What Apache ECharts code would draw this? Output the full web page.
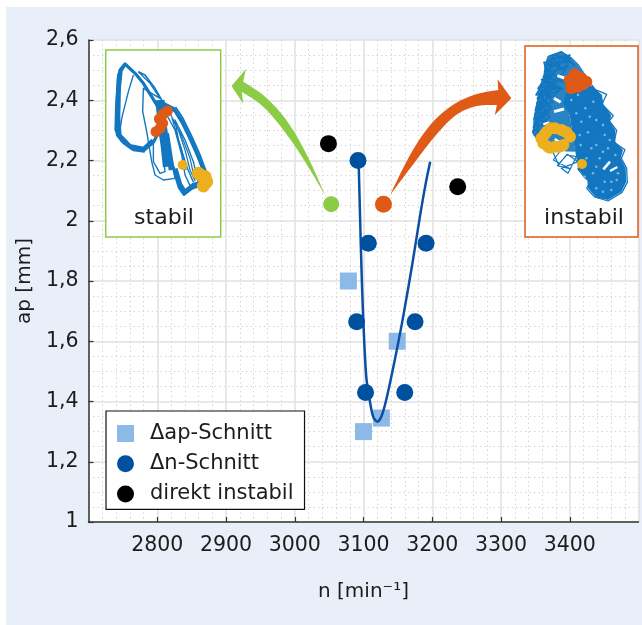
<!DOCTYPE html>
<html><head><meta charset="utf-8">
<style>html,body{margin:0;padding:0;background:#fff}#c{width:642px;height:625px}</style>
<script src="https://cdn.jsdelivr.net/npm/echarts@6/dist/echarts.min.js"></script>
</head><body><div id="c"></div>
<script>
// ---- main chart data [n, ap] ----
const apCut = [[3078,1.80],[3149,1.60],[3126,1.345],[3100,1.30]];
const nCut = [[3092,2.20],[3107,1.925],[3090,1.665],[3103,1.43],[3160,1.43],[3175,1.665],[3191,1.925]];
const direct = [[3049,2.256],[3237,2.113]];
const stablePoint = [[3053,2.055]];
const unstablePoint = [[3129,2.055]];
const boundary = [[3093,2.19],[3095,2.013],[3097,1.847],[3099.5,1.68],[3104,1.482],[3109,1.405],[3114,1.35],[3120,1.333],[3126,1.35],[3133,1.405],[3145.5,1.538],[3157.6,1.68],[3172,1.87],[3182,2.013],[3190.5,2.124],[3197,2.196]];
const xTicks = [2800,2900,3000,3100,3200,3300,3400];
// ---- arrow outlines [n, ap]: outer edge, head, inner edge ----
const greenOuter = [[3044,2.085],[3022,2.202],[2993,2.323],[2959,2.412],[2925,2.462]];
const greenHead = [[2929,2.504],[2908,2.447],[2925,2.388]];
const greenInner = [[2923,2.428],[2954,2.384],[2988,2.29],[3017,2.19],[3044,2.085]];
const orangeOuter = [[3138.5,2.085],[3168,2.224],[3197,2.323],[3231,2.39],[3265,2.423],[3296,2.434]];
const orangeHead = [[3295,2.47],[3315,2.407],[3291,2.351]];
const orangeInner = [[3294,2.384],[3265,2.384],[3235.5,2.357],[3206.5,2.29],[3177,2.202],[3138.5,2.085]];
// ---- inset "stabil" traces ----
const stabilThick = [[45,27],[30,45],[25,70],[22,130],[20,200],[22,240],[40,262],[65,280],[100,287],[130,262],[150,225],[155,180],[140,150],[125,125],[100,85],[75,55],[45,27],[33,48],[28,100],[26,190],[30,240],[60,272],[100,280],[128,255]];
const stabilThick2 = [[150,140],[190,160],[210,190],[235,240],[260,295],[280,345],[290,385],[265,392],[245,400],[222,418],[208,398],[192,345],[172,290],[160,240],[150,180],[165,150],[195,168],[218,205],[245,260],[268,315],[285,360],[278,382],[250,388],[225,408],[212,388],[198,340]];
const stabilThick3 = [[38,36],[24,60],[18,150],[16,225],[34,258],[70,286],[104,290]];
const stabilThick4 = [[196,156],[216,186],[242,238],[268,296],[288,350],[296,386]];
const stabilThin = [[70,60],[55,110],[35,190],[28,240]];
const stabilThin2 = [[85,50],[120,85],[150,130],[100,100],[98,170],[110,230],[125,320],[135,360],[160,375],[195,370],[190,340],[170,300]];
const stabilThin3 = [[85,50],[105,60],[135,100],[155,135]];
const stabilThin4 = [[130,265],[130,320],[150,355],[165,350],[160,300]];
const stabilThin5 = [[170,180],[195,225],[215,300],[225,360],[240,392],[265,385],[250,320],[225,255],[195,195],[205,255],[232,340],[250,382]];
const stabilThin6 = [[180,175],[205,225],[225,285],[240,345],[255,378],[240,310],[212,235],[186,190],[215,285],[228,345]];
const stabilCore = [[150,135],[155,200],[165,270],[172,335]];
const stabilCore2 = [[185,345],[178,300],[168,235]];
const stabilOrange = [[172,168],[158,178],[148,192],[158,205],[150,220],[138,230]];
const stabilYellowBig = [[265,355],[272,360],[285,365],[290,380],[280,393]];
const stabilYellowSmall = [[218,330]];
// ---- inset "instabil" traces ----
const instabilWebFill = [[58,34],[100,20],[130,36],[152,58],[170,85],[120,120],[110,175],[125,210],[135,270],[142,320],[70,318],[36,294],[14,268],[16,222],[26,170],[32,130],[46,92],[50,60]];
const instabilLeft = [[62,34],[100,20],[128,40],[78,30],[55,62],[118,46],[140,60],[95,36],[60,48],[50,80],[112,72],[70,58],[46,96],[104,88],[120,60],[84,76],[42,118],[96,104],[66,84],[30,130],[78,120],[104,132],[48,108],[24,150],[92,140],[58,118],[26,176],[80,150],[100,128],[40,136],[22,196],[74,170],[50,146],[18,222],[72,190],[44,168],[14,262],[66,214],[36,190],[20,240],[70,236],[30,212],[26,280],[60,252],[18,268],[38,292],[46,232],[70,40],[126,30],[88,60],[56,72],[100,50],[72,96],[40,104],[86,116],[52,132],[28,160],[70,134],[36,156],[62,176],[28,204],[64,202],[22,230],[56,226],[34,262],[20,208],[58,160],[84,96],[108,112],[60,100],[48,52],[130,52],[110,30],[66,66],[92,26],[52,90],[76,84],[36,124],[90,128],[34,146],[68,150],[24,186],[68,182],[30,226],[60,238],[16,246],[50,208],[42,248]];
const instabilRightFill = [[112,96],[170,85],[200,130],[222,150],[226,178],[250,212],[244,228],[262,256],[262,290],[285,315],[278,340],[293,370],[295,410],[280,440],[240,465],[205,458],[180,430],[178,405],[150,370],[142,320],[135,270],[125,210],[106,175],[118,130]];
const instabilRightEdge = [[185,112],[202,134],[236,148],[222,178],[256,212],[244,228],[266,256],[258,292],[291,314],[280,340],[296,370],[298,412],[282,442],[240,468],[200,456],[176,430],[186,410],[172,400],[150,372],[170,330],[140,300],[160,250],[130,240],[150,190],[108,176],[140,150],[118,120]];
const instabilOutlier = [[75,322],[92,360],[115,330],[145,335],[120,385],[100,370],[150,350],[118,328],[88,362],[128,372],[76,345],[102,312],[80,318]];
// white gaps between the strokes
const gapA = [[88,92],[112,100]];
const gapB = [[78,160],[98,172]];
const gapC = [[78,200],[108,192]];
const gapD = [[46,238],[64,232]];
const gapE = [[80,282],[102,296]];
const gapF = [[66,300],[112,316]];
const instabilHoles = [[226,373],[246,350]];
const instabilHoles2 = [[246,378],[268,366]];
const instabilSpeck = [[150,150],[172,190],[196,170],[160,230],[205,225],[180,262],[230,270],[158,300],[205,300],[240,310],[175,340],[215,340],[195,385],[262,330],[230,410],[266,405],[205,430],[250,435],[145,205],[190,120],[225,240],[170,395],[270,385],[130,165],[185,215],[245,285],[155,270],[225,320],[190,310],[205,365],[250,410],[225,440]];
const instabilOrange = [[140,88],[125,105],[130,130],[150,125],[175,110],[160,100],[145,108],[132,118],[165,118]];
const instabilYellowRing = [[81,250],[56,260],[46,295],[81,305],[106,300],[126,275],[101,255],[40,280],[68,250],[115,262],[93,305],[66,308],[50,268],[60,305]];
const instabilYellowSmall = [[162,357]];

const FONT = 'DejaVu Sans';
const INK = '#1c1c1c', TRACE = '#1277C0', GREEN = '#8CCB46', ORANGE = '#DE5A16', YELLOW = '#EEAF1E';

// corner-cutting of a read-off edge so the arrow outline is curved
function rounded(pts) {
  let p = pts;
  for (let k = 0; k < 3; k++) {
    const o = [p[0]];
    for (let i = 0; i < p.length - 1; i++) {
      o.push([p[i][0]*.75 + p[i+1][0]*.25, p[i][1]*.75 + p[i+1][1]*.25]);
      o.push([p[i][0]*.25 + p[i+1][0]*.75, p[i][1]*.25 + p[i+1][1]*.75]);
    }
    o.push(p[p.length-1]);
    p = o;
  }
  return p;
}
function polygon(points, color, xi, z, opacity) {
  return {
    type:'custom', xAxisIndex:xi, yAxisIndex:xi, z, silent:true, clip:false,
    data:[points[0]],
    renderItem:(p, api) => ({
      type:'polygon',
      shape:{points:points.map(q => api.coord(q))},
      style:{fill:color, opacity: opacity === undefined ? 1 : opacity}
    })
  };
}
function trace(data, xi, width, color) {
  return {type:'line', data, xAxisIndex:xi, yAxisIndex:xi, z:4, silent:true, showSymbol:false, symbol:'none',
    lineStyle:{color:color||TRACE, width, join:'round'}, animation:false};
}
function dots(data, xi, size, color, z) {
  return {type:'scatter', data, xAxisIndex:xi, yAxisIndex:xi, z:z||5, silent:true, symbol:'circle', symbolSize:size,
    itemStyle:{color, opacity:1}, animation:false};
}
function insetAxis(min, max, inverse) {
  return {type:'value', min, max, inverse:!!inverse, show:false, splitLine:{show:false}, axisLine:{show:false}, axisTick:{show:false}, axisLabel:{show:false}};
}

const option = {
  animation:false,
  textStyle:{fontFamily:FONT},
  graphic:[{type:'rect', z:-10, silent:true, shape:{x:6,y:7,width:636,height:618}, style:{fill:'#E8EFF9'}}],
  title:[
    {text:'stabil', left:164, top:207, padding:0, textAlign:'center', z:8, textStyle:{fontFamily:FONT,fontSize:22,fontWeight:'normal',color:INK}},
    {text:'instabil', left:584, top:207, padding:0, textAlign:'center', z:8, textStyle:{fontFamily:FONT,fontSize:22,fontWeight:'normal',color:INK}}
  ],
  legend:{
    left:106, top:411, orient:'vertical', selectedMode:false,
    data:['Δap-Schnitt','Δn-Schnitt','direkt instabil'],
    itemWidth:17, itemHeight:17, itemGap:9.2, padding:[12,11,5,11],
    backgroundColor:'#fff', borderColor:'#111', borderWidth:1.2, z:10,
    textStyle:{fontFamily:FONT, fontSize:21, lineHeight:17, color:INK, padding:[0,0,0,11]}
  },
  grid:[
    {left:88.5, top:40, width:550, height:482, show:true, backgroundColor:'#fff', borderWidth:0, containLabel:false},
    {left:105.7, top:50, width:115, height:187, show:true, backgroundColor:'#fff', borderColor:GREEN, borderWidth:1.5, z:3},
    {left:525, top:46, width:113, height:191, show:true, backgroundColor:'#fff', borderColor:ORANGE, borderWidth:1.5, z:3}
  ],
  xAxis:[
    {type:'value', gridIndex:0, min:2700, max:3500, interval:100,
     name:'n [min⁻¹]', nameLocation:'middle', nameGap:60,
     nameTextStyle:{fontFamily:FONT,fontSize:20,color:INK},
     axisLine:{show:true,onZero:false,lineStyle:{color:'#333',width:1.5}},
     axisTick:{show:true,inside:true,length:5,lineStyle:{color:'#333',width:1.2}},
     axisLabel:{margin:13,fontFamily:FONT,fontSize:20.5,color:INK,showMinLabel:false,showMaxLabel:false,
       formatter:v => xTicks.includes(v) ? String(v) : ''},
     minorTick:{show:false,splitNumber:5},
     splitLine:{show:true,lineStyle:{color:'#e0e0e0',width:1.5}},
     minorSplitLine:{show:true,lineStyle:{color:'#d6d6d6',width:1,type:[1.5,3]}}},
    Object.assign(insetAxis(-13,332),{gridIndex:1}),
    Object.assign(insetAxis(-9,330),{gridIndex:2})
  ],
  yAxis:[
    {type:'value', gridIndex:0, min:1, max:2.6, interval:0.2,
     name:'ap [mm]', nameLocation:'middle', nameGap:53, nameRotate:90,
     nameTextStyle:{fontFamily:FONT,fontSize:20,color:INK},
     axisLine:{show:true,onZero:false,lineStyle:{color:'#333',width:1.5}},
     axisTick:{show:true,inside:true,length:5,lineStyle:{color:'#333',width:1.2}},
     axisLabel:{margin:10,fontFamily:FONT,fontSize:20.5,color:INK,
       formatter:v => String(Math.round(v*10)/10).replace('.',',')},
     minorTick:{show:false,splitNumber:4},
     splitLine:{show:true,lineStyle:{color:'#e0e0e0',width:1.5}},
     minorSplitLine:{show:true,lineStyle:{color:'#d6d6d6',width:1,type:[1.5,3]}}},
    Object.assign(insetAxis(-15,546,true),{gridIndex:1}),
    Object.assign(insetAxis(3,576,true),{gridIndex:2})
  ],
  series:[
    polygon([...rounded(greenOuter), ...greenHead, ...rounded(greenInner)], GREEN, 0, 3),
    polygon([...rounded(orangeOuter), ...orangeHead, ...rounded(orangeInner)], ORANGE, 0, 3),
    {name:'Δap-Schnitt', type:'scatter', data:apCut, symbol:'rect', symbolSize:17, z:2, itemStyle:{color:'#8DB9E6',opacity:1}},
    {name:'boundary', type:'line', data:boundary, smooth:0.3, symbol:'none', z:3, lineStyle:{color:'#0A4FA3',width:2.5}},
    {name:'Δn-Schnitt', type:'scatter', data:nCut, symbol:'circle', symbolSize:17, z:4, itemStyle:{color:'#0050A0',opacity:1}},
    {name:'direkt instabil', type:'scatter', data:direct, symbol:'circle', symbolSize:17, z:4, itemStyle:{color:'#000',opacity:1}},
    {name:'stabil', type:'scatter', data:stablePoint, symbol:'circle', symbolSize:16, z:4, itemStyle:{color:GREEN,opacity:1}},
    {name:'instabil', type:'scatter', data:unstablePoint, symbol:'circle', symbolSize:17, z:4, itemStyle:{color:ORANGE,opacity:1}},

    trace(stabilThin,1,1.4), trace(stabilThin2,1,1.4), trace(stabilThin3,1,1.6), trace(stabilThin4,1,1.4), trace(stabilThin5,1,1.4), trace(stabilThin6,1,1.2),
    trace(stabilThick,1,3.2), trace(stabilThick2,1,3.2), trace(stabilThick3,1,2), trace(stabilThick4,1,2), trace(stabilCore,1,9), trace(stabilCore2,1,6),
    dots(stabilOrange,1,11,ORANGE), dots(stabilYellowBig,1,13,YELLOW), dots(stabilYellowSmall,1,10,YELLOW),

    polygon(instabilWebFill,TRACE,2,4,0.9),
    polygon(instabilRightFill,TRACE,2,4),
    trace(instabilLeft,2,1.6), trace(instabilRightEdge,2,1.3), trace(instabilOutlier,2,1.2),
    trace(gapA,2,3,'#fff'), trace(gapB,2,3,'#fff'), trace(gapC,2,3,'#fff'), trace(gapD,2,2.5,'#fff'), trace(gapE,2,2.5,'#fff'), trace(gapF,2,3,'#fff'),
    trace(instabilHoles,2,2.5,'#fff'), trace(instabilHoles2,2,2.2,'#fff'),
    dots(instabilSpeck,2,2.5,'#7db6e2',4.5),
    dots(instabilOrange,2,12,ORANGE), dots(instabilYellowRing,2,12,YELLOW), dots(instabilYellowSmall,2,10,YELLOW)
  ]
};
const chart = echarts.init(document.getElementById('c'), null, {renderer:'canvas'});
chart.setOption(option);
</script></body></html>
